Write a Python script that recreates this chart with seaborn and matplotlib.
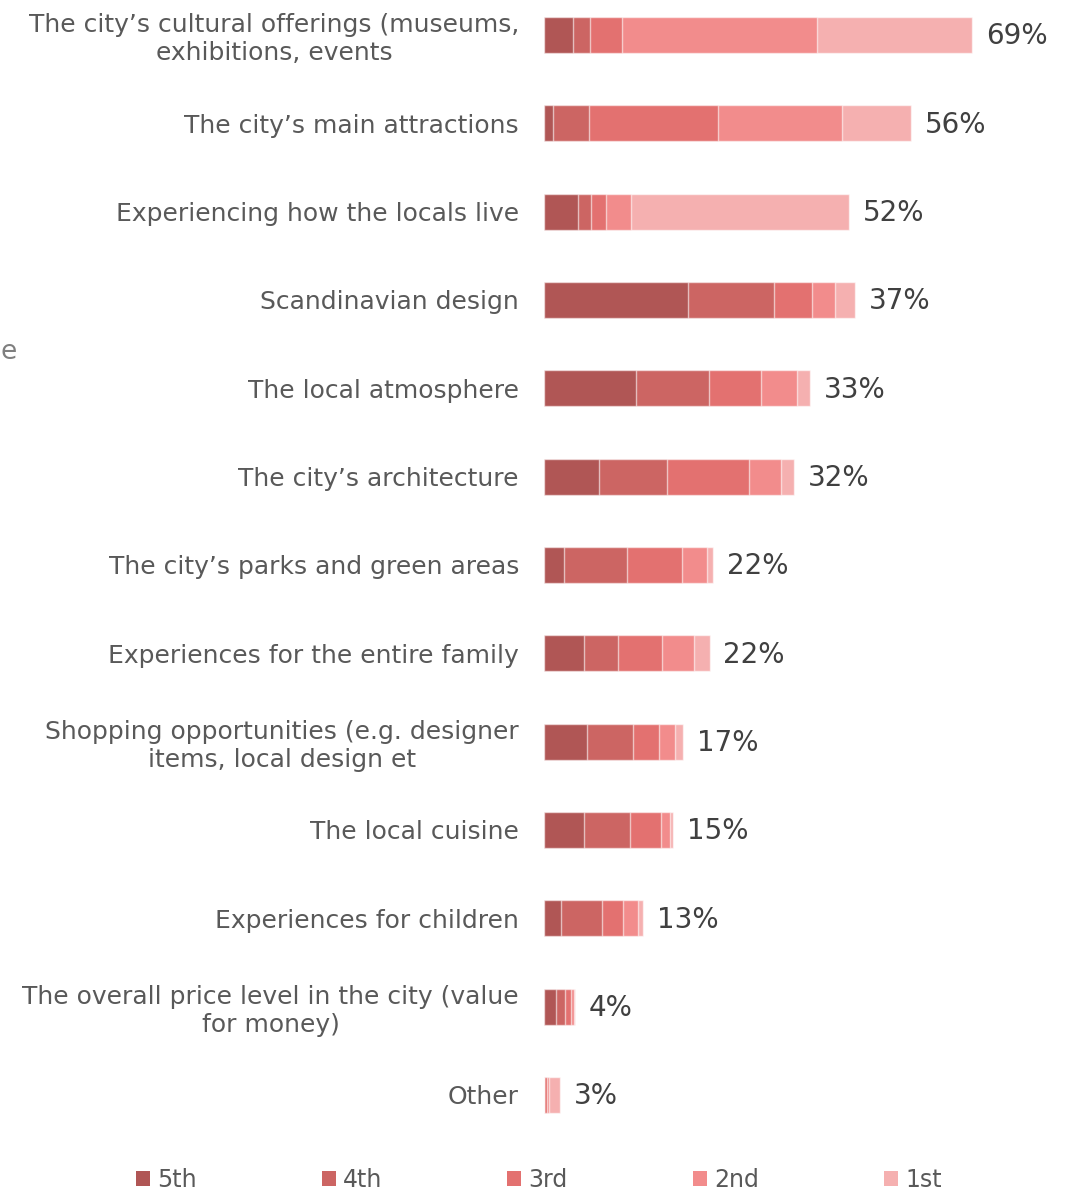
import matplotlib
matplotlib.use("Agg")
import matplotlib.pyplot as plt
import numpy as np
import pandas as pd
import seaborn as sns
from matplotlib.patches import Patch

# Reasons for visiting, top to bottom
categories = [
    "The city\u2019s cultural offerings (museums,\nexhibitions, events",
    "The city\u2019s main attractions",
    "Experiencing how the locals live",
    "Scandinavian design",
    "The local atmosphere",
    "The city\u2019s architecture",
    "The city\u2019s parks and green areas",
    "Experiences for the entire family",
    "Shopping opportunities (e.g. designer\nitems, local design et",
    "The local cuisine",
    "Experiences for children",
    "The overall price level in the city (value\nfor money)",
    "Other",
]

rank_labels = ["5th", "4th", "3rd", "2nd", "1st"]

# Stacked segments per rank
fifth = [4.7, 1.4, 5.5, 23.2, 14.8, 8.9, 3.2, 6.5, 6.9, 6.5, 2.7, 1.9, 0.0]
fourth = [2.7, 5.8, 2.0, 13.9, 11.8, 11.0, 10.2, 5.5, 7.4, 7.4, 6.7, 1.5, 0.0]
third = [5.2, 20.9, 2.5, 6.2, 8.4, 13.2, 8.9, 7.0, 4.2, 4.9, 3.3, 1.0, 0.5]
second = [31.5, 20.0, 4.1, 3.7, 5.8, 5.1, 4.0, 5.2, 2.6, 1.5, 2.5, 0.4, 0.3]
first = [24.9, 11.1, 35.1, 3.2, 2.1, 2.2, 1.0, 2.5, 1.3, 0.5, 0.8, 0.2, 1.8]

# Share of respondents mentioning each reason
mentioned = [69, 56, 52, 37, 33, 32, 22, 22, 17, 15, 13, 4, 3]

rank_colors = ["#b05655", "#cc6563", "#e37170", "#f28c8c", "#f5b0b0"]

sns.set_theme(style="white")
plt.rcParams["font.family"] = ["DejaVu Sans"]

W, H = 1071, 1192
fig = plt.figure(figsize=(W / 100, H / 100), dpi=100)
ax = fig.add_axes([544 / W, 1 - 1140 / H, 516 / W, 1140 / H])

df = pd.DataFrame({"category": categories})
series = [fifth, fourth, third, second, first]
for i, s in enumerate(series):
    df[rank_labels[i]] = s
cum = df[rank_labels].cumsum(axis=1)

# Draw the longest cumulative bar first, then overlay shorter ones
for i in reversed(range(len(rank_labels))):
    sns.barplot(
        x=cum[rank_labels[i]], y=df["category"], orient="h",
        color=rank_colors[i], saturation=1, width=0.41,
        edgecolor=(1, 1, 1, 0.6), linewidth=1.0, ax=ax,
    )

totals = cum[rank_labels[-1]].values
for yi, (t, m) in enumerate(zip(totals, mentioned)):
    ax.annotate(f"{m}%", xy=(t, yi), xytext=(10, -1), textcoords="offset points",
                ha="left", va="center", fontsize=20, color="#404040")

ax.set_xlim(0, 516 / 6.2)
ax.set_ylim(12.51, -0.396)
ax.set_xlabel("")
ax.set_ylabel("")
ax.set_xticks([])
for sp in ax.spines.values():
    sp.set_visible(False)
ax.tick_params(axis="y", length=0, pad=18, labelsize=18, labelcolor="#595959")
for lab in ax.get_yticklabels():
    lab.set_multialignment("center")

# Axis title fragment at the left edge
fig.text(0.5 / W, 1 - 352 / H, "e", ha="left", va="center", fontsize=19, color="#7f7f7f")

handles = [Patch(facecolor=c, edgecolor="none") for c in rank_colors]
fig.legend(handles, rank_labels, loc="center", bbox_to_anchor=(0.118, 0.0, 0.77, 0.02),
           mode="expand", ncol=5, frameon=False, fontsize=17, labelcolor="#595959",
           handlelength=0.6, handleheight=0.6, handletextpad=0.3, borderaxespad=0)

fig.savefig("out.png", dpi=100, facecolor="white")
